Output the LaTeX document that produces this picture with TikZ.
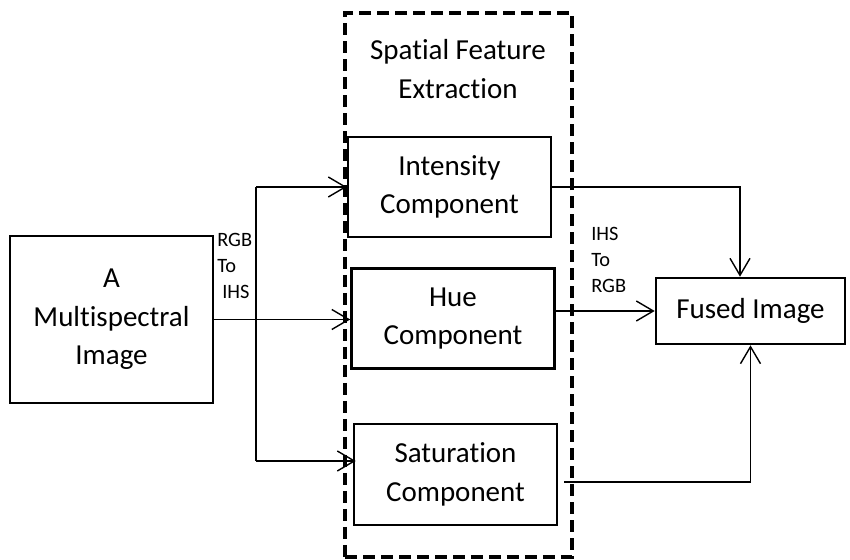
\documentclass[tikz,border=0pt]{standalone}
\usepackage{fontspec}
\setmainfont{Carlito}[Ligatures={NoCommon,NoRare}]
\usepackage{tikz}
\usetikzlibrary{arrows.meta,positioning,calc}

\begin{document}
\begin{tikzpicture}[x=0.02cm, y=-0.02cm,
    every node/.style={font=\fontsize{16.5}{22}\selectfont},
    box/.style={draw, line width=1.5pt, align=center, inner sep=0pt},
    tag/.style={font=\fontsize{11.6}{14.8}\selectfont, align=left, inner sep=0pt},
    link/.style={line width=0.8pt},
    arr/.style={link, -{Straight Barb[length=3.4mm, width=4mm]}}]
    \useasboundingbox (0,0) rectangle (850,560);
    % frame round the three components
    \node[draw, line width=2.3pt, dash pattern=on 0.24cm off 0.12cm, minimum width=4.54cm, minimum height=10.88cm] (sfe) at (458.5,285) {};
    \node[align=center] (sfelabel) at (458,69) {Spatial Feature\\Extraction};

    \node[box, minimum width=4.06cm, minimum height=3.34cm] (ms) at (111.5,319.5) {A\\Multispectral\\Image};
    \node[box, minimum width=4.06cm, minimum height=2.0cm] (int) at (449.5,187) {Intensity\\Component};
    \node[box, minimum width=4.06cm, minimum height=2.0cm] (hue) at (453,318.5) {Hue\\Component};
    \node[box, minimum width=4.06cm, minimum height=2.02cm] (sat) at (455.5,474.5) {Saturation\\Component};
    \node[box, minimum width=3.78cm, minimum height=1.32cm] (fused) at (750.5,311) {Fused Image};

    \node[tag, anchor=north west] (rgbihs) at (217,233) {RGB\\To\\\hspace{0.1cm}IHS};
    \node[tag, anchor=north west] (ihsrgb) at (591,227) {IHS\\To\\RGB};

    % RGB to IHS
    \coordinate (tap) at (256,461);
    \draw[link] (ms.east) -- (ms.east -| hue.west);
    \draw[link] (tap |- int.west) -- (tap);
    \draw[arr] (tap |- int.west) -- (int.west);
    \draw[arr] (ms.east -| tap) -- (ms.east -| hue.west);
    \draw[arr] (tap) -- ([xshift=0.06cm]tap -| sat.west);

    % IHS to RGB
    \draw[arr] (int.east) -| ([xshift=-0.21cm]fused.north);
    \draw[arr] (fused.west -| hue.east) -- (fused.west);
    \draw[arr] ([xshift=0.12cm, yshift=-0.15cm]sat.east) -| (fused.south);
  \end{tikzpicture}
\end{document}
